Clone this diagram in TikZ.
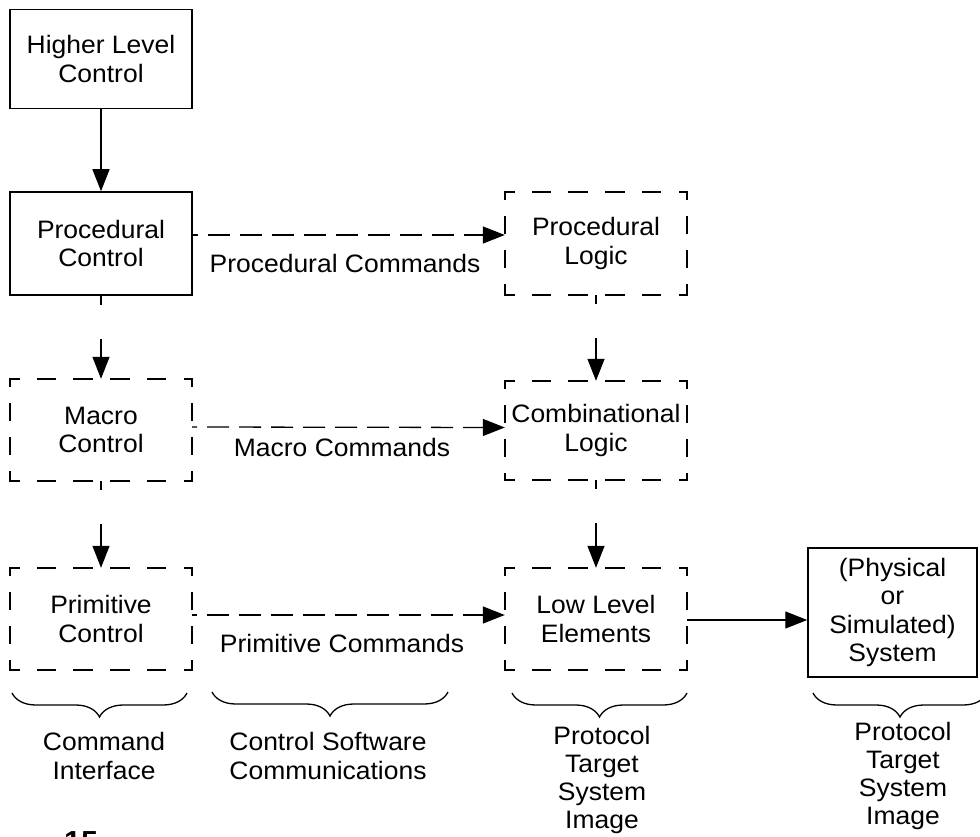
\documentclass[tikz,border=0pt]{standalone}
\usepackage{fontspec}
\setmainfont{Liberation Sans}[FakeStretch=1.05]
\usetikzlibrary{arrows.meta,decorations.pathreplacing}
\newcommand\dbord[1]{%
  \draw[hside] (#1.north west) -- (#1.north east);
  \draw[hside] (#1.south west) -- (#1.south east);
  \draw[vside] (#1.north west) -- (#1.south west);
  \draw[vside] (#1.north east) -- (#1.south east);}
\begin{document}
\begin{tikzpicture}[x=1pt,y=-1pt,
  every node/.style={font=\fontsize{25.2}{28.3}\selectfont, align=center, inner sep=0pt},
  sbox/.style={draw, line width=1.5pt, minimum width=182pt, minimum height=100pt},
  dbox/.style={minimum width=182pt, minimum height=100pt},
  hside/.style={line width=1.5pt, line cap=rect, dash pattern=on 18pt off 18.7pt, dash phase=9pt},
  vside/.style={line width=1.5pt, line cap=rect, dash pattern=on 16pt off 18pt, dash phase=9pt},
  sarrow/.style={line width=1.3pt, -{Triangle[length=22pt,width=17pt]}},
  darrow/.style={sarrow, dash pattern=on 22pt off 10pt, dash phase=17pt},
  varrow/.style={sarrow, dash pattern=on 9pt off 34pt on 80pt off 0pt},
  brc/.style={decorate, decoration={brace, mirror, amplitude=24pt}, line width=1.3pt}]
\useasboundingbox (0,0) rectangle (980,837);
% boxes
\node[sbox, minimum height=99pt] (hlc) at (101,59) {Higher Level\\Control};
\node[sbox, minimum height=103pt] (pc) at (101,243.5) {Procedural\\Control};
\node[dbox, minimum height=103pt] (pl) at (596,243.5) {Procedural\\Logic};
\node[dbox, minimum height=102pt] (mc) at (101,430) {Macro\\Control};
\node[dbox, minimum height=99pt] (cl) at (596,430.5) {Combinational\\Logic};
\node[dbox, minimum height=102pt] (prc) at (101,619) {Primitive\\Control};
\node[dbox, minimum height=102pt] (lle) at (596,619) {Low Level\\Elements};
\node[sbox, minimum width=169pt, minimum height=129pt] (sys) at (892.5,612.5) {(Physical\\or\\Simulated)\\System};
\dbord{pl}
\dbord{mc}
\dbord{cl}
\dbord{prc}
\dbord{lle}
% vertical arrows
\draw[sarrow] (hlc) -- (pc);
\draw[varrow] (pc) -- (mc);
\draw[varrow] (mc) -- (prc);
\draw[varrow] (pl) -- (cl);
\draw[varrow] (cl) -- (lle);
% horizontal arrows
\draw[darrow] ([yshift=8.5pt]pc.east) -- ([yshift=8.5pt]pl.west);
\draw[darrow] ([yshift=3pt]mc.east) -- ([yshift=3pt]cl.west);
\draw[darrow] ([yshift=4pt]prc.east) -- ([yshift=4pt]lle.west);
\draw[sarrow] ([yshift=-1pt]lle.east) -- ([yshift=-1pt]lle.east -| sys.west);
% arrow labels
\node (pcmd) at (345,263) {Procedural Commands};
\node (mcmd) at (342,447) {Macro Commands};
\node (pmcmd) at (342,643) {Primitive Commands};
% braces
\coordinate (b1a) at (12,693); \coordinate (b1b) at (187,693);
\coordinate (b2a) at (212,692); \coordinate (b2b) at (448,692);
\coordinate (b3a) at (512,693); \coordinate (b3b) at (687,693);
\coordinate (b4a) at (813,693); \coordinate (b4b) at (987,693);
\draw[brc] (b1a) -- (b1b);
\draw[brc] (b2a) -- (b2b);
\draw[brc] (b3a) -- (b3b);
\draw[brc] (b4a) -- (b4b);
% brace labels
\node (ci) at (104,756) {Command\\Interface};
\node (csc) at (328,756) {Control Software\\Communications};
\node (ptsi1) at (602,780) {Protocol\\Target\\System\\Image};
\node (ptsi2) at (903,776) {Protocol\\Target\\System\\Image};
% cropped figure number
\node[font=\bfseries\fontsize{29}{30}\selectfont, anchor=north west] (fig) at (64,831) {15};
\end{tikzpicture}
\end{document}
